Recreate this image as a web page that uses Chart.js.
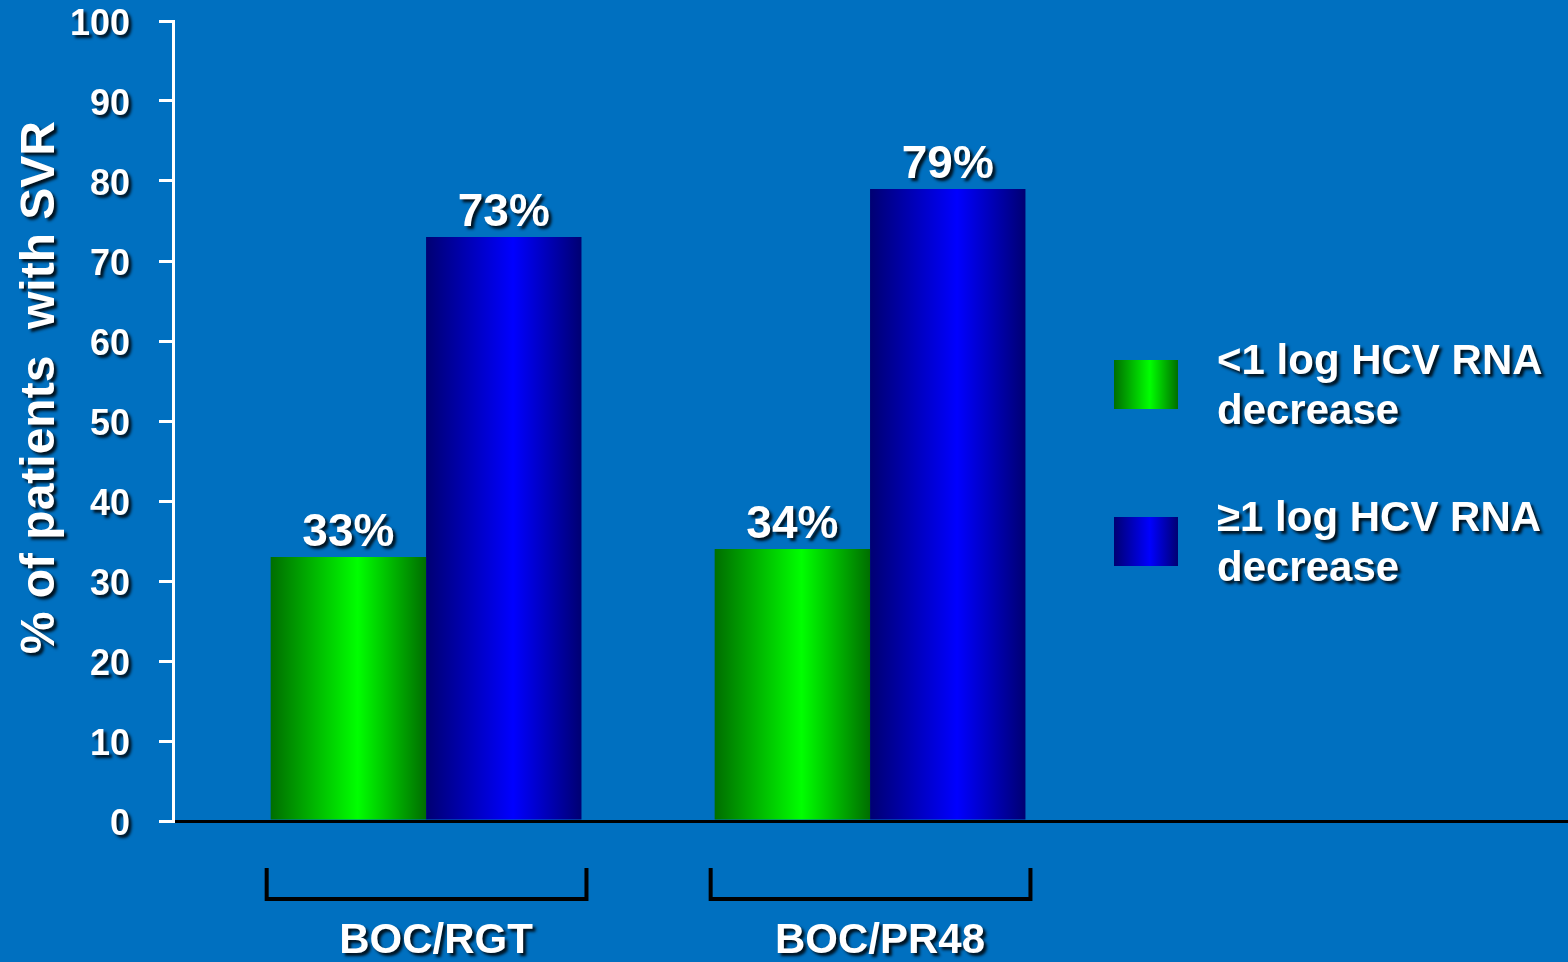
<!DOCTYPE html>
<html lang="en">
  <head>
    <meta charset="UTF-8" />
    <title>SVR by early HCV RNA decline</title>
    <script src="https://cdn.jsdelivr.net/npm/chart.js"></script>
    <style>
      html,
      body {
        margin: 0;
        background: #0070c0;
      }
      #wrap {
        position: relative;
        width: 1568px;
        height: 962px;
        overflow: hidden;
      }
      #legend {
        position: absolute;
        left: 1114px;
        top: 335px;
        font-family: "Liberation Sans", Arial, sans-serif;
        font-weight: bold;
        font-size: 42px;
        line-height: 50px;
        color: #fff;
        text-shadow: 3px 3px 3px rgba(0, 0, 0, 0.85);
      }
      .legend-item {
        position: relative;
        height: 157px;
      }
      .legend-box {
        position: absolute;
        left: 0;
        top: 25px;
        width: 64px;
        height: 49px;
      }
      .legend-text {
        position: absolute;
        left: 103px;
        top: 0;
        white-space: nowrap;
      }
    </style>
  </head>
  <body>
    <div id="wrap">
      <canvas id="chart"></canvas>
      <div id="legend"></div>
    </div>

    <script>
      // groups on the x axis
      const categories = ["BOC/RGT", "BOC/PR48"];
      // % of patients with SVR
      const lessThan1Log = [33, 34];
      const atLeast1Log = [73, 79];
      const seriesLabels = [
        ["<1 log HCV RNA", "decrease"],
        ["\u22651 log HCV RNA", "decrease"],
      ];
      const yTicks = [0, 10, 20, 30, 40, 50, 60, 70, 80, 90, 100];

      // dark edge / bright centre of each bar's sheen
      const shades = [
        ["#006e00", "#00ff00"],
        ["#000072", "#0000ff"],
      ];
      const sheenAt = 0.56;

      Chart.defaults.font.family = '"Liberation Sans", Arial, sans-serif';
      Chart.defaults.font.weight = "bold";
      Chart.defaults.color = "#fff";

      // dark drop shadow under every piece of canvas text
      const textShadow = {
        id: "textShadow",
        afterInit(chart) {
          const ctx = chart.ctx;
          const fill = ctx.fillText;
          ctx.fillText = function (...args) {
            this.save();
            this.shadowColor = "rgba(0,0,0,0.85)";
            this.shadowBlur = 3;
            this.shadowOffsetX = 3;
            this.shadowOffsetY = 3;
            fill.apply(this, args);
            this.restore();
          };
        },
      };

      // horizontal gradient across each bar
      const barSheen = {
        id: "barSheen",
        beforeDatasetsDraw(chart) {
          const ctx = chart.ctx;
          chart.data.datasets.forEach((ds, i) => {
            const [dark, light] = shades[i];
            chart.getDatasetMeta(i).data.forEach((bar) => {
              const left = bar.x - bar.width / 2;
              const g = ctx.createLinearGradient(left, 0, left + bar.width, 0);
              g.addColorStop(0, dark);
              g.addColorStop(sheenAt, light);
              g.addColorStop(1, dark);
              bar.options = { ...bar.options, backgroundColor: g };
            });
          });
        },
      };

      // "73%" style labels above each bar
      const valueLabels = {
        id: "valueLabels",
        afterDatasetsDraw(chart) {
          const ctx = chart.ctx;
          ctx.save();
          ctx.font = 'bold 46px "Liberation Sans", Arial, sans-serif';
          ctx.fillStyle = "#fff";
          ctx.textAlign = "center";
          ctx.textBaseline = "alphabetic";
          chart.data.datasets.forEach((ds, i) => {
            chart.getDatasetMeta(i).data.forEach((bar, j) => {
              ctx.fillText(ds.data[j].y + "%", bar.x, bar.y - 11);
            });
          });
          ctx.restore();
        },
      };

      // black bracket under each group of bars
      const groupBrackets = {
        id: "groupBrackets",
        afterDraw(chart) {
          const ctx = chart.ctx;
          const first = chart.getDatasetMeta(0).data;
          const last = chart.getDatasetMeta(chart.data.datasets.length - 1).data;
          const top = chart.scales.x.top + 47;
          const bottom = chart.scales.x.top + 78;
          ctx.save();
          ctx.strokeStyle = "#000";
          ctx.lineWidth = 4;
          first.forEach((bar, j) => {
            const left = bar.x - bar.width / 2 - 4;
            const right = last[j].x + last[j].width / 2 + 5;
            ctx.beginPath();
            ctx.moveTo(left, top);
            ctx.lineTo(left, bottom);
            ctx.lineTo(right, bottom);
            ctx.lineTo(right, top);
            ctx.stroke();
          });
          ctx.restore();
        },
      };

      const toPoints = (values) => values.map((v, i) => ({ x: i + 1, y: v }));

      new Chart(document.getElementById("chart"), {
        type: "bar",
        data: {
          datasets: [
            {
              label: seriesLabels[0].join(" "),
              data: toPoints(lessThan1Log),
              backgroundColor: shades[0][1],
            },
            {
              label: seriesLabels[1].join(" "),
              data: toPoints(atLeast1Log),
              backgroundColor: shades[1][1],
            },
          ],
        },
        options: {
          responsive: true,
          maintainAspectRatio: false,
          animation: false,
          datasets: {
            bar: { categoryPercentage: 0.7, barPercentage: 1.0 },
          },
          layout: { padding: { top: 21, right: 0, bottom: 0, left: 0 } },
          plugins: {
            legend: { display: false },
            tooltip: { enabled: false },
          },
          scales: {
            x: {
              type: "linear",
              offset: false,
              min: 0.43,
              max: 3.572,
              afterBuildTicks: (scale) => {
                scale.ticks = categories.map((c, i) => ({ value: i + 1 }));
              },
              afterFit: (scale) => {
                scale.height = 141;
              },
              ticks: {
                color: "#fff",
                font: { size: 42, weight: "bold" },
                padding: 95,
                labelOffset: 10,
                maxRotation: 0,
                callback: (v) => categories[v - 1] || "",
              },
              grid: { display: false, drawTicks: false },
              border: { color: "#000", width: 3 },
            },
            y: {
              min: 0,
              max: 100,
              afterBuildTicks: (scale) => {
                scale.ticks = yTicks.map((v) => ({ value: v }));
              },
              afterFit: (scale) => {
                scale.width = 173;
                scale.paddingTop = 0;
                scale.paddingBottom = 0;
              },
              ticks: {
                color: "#fff",
                font: { size: 36, weight: "bold" },
                padding: 29,
                labelOffset: 4,
              },
              grid: {
                drawOnChartArea: false,
                color: "#fff",
                lineWidth: 3,
                tickLength: 14,
              },
              border: { color: "#fff", width: 3 },
              title: {
                display: true,
                // leading spaces lift the rotated title a little above centre
                text: "     % of patients  with SVR",
                color: "#fff",
                font: { size: 48, weight: "bold" },
                padding: { top: 12, bottom: 0 },
              },
            },
          },
        },
        plugins: [textShadow, barSheen, valueLabels, groupBrackets],
      });

      // legend with gradient swatches, two lines per series
      const legend = document.getElementById("legend");
      seriesLabels.forEach((lines, i) => {
        const item = document.createElement("div");
        item.className = "legend-item";
        const box = document.createElement("div");
        box.className = "legend-box";
        const [dark, light] = shades[i];
        box.style.background = `linear-gradient(to right, ${dark}, ${light} ${sheenAt * 100}%, ${dark})`;
        const text = document.createElement("div");
        text.className = "legend-text";
        lines.forEach((line) => {
          const row = document.createElement("div");
          row.textContent = line;
          text.appendChild(row);
        });
        item.appendChild(box);
        item.appendChild(text);
        legend.appendChild(item);
      });
    </script>
  </body>
</html>
